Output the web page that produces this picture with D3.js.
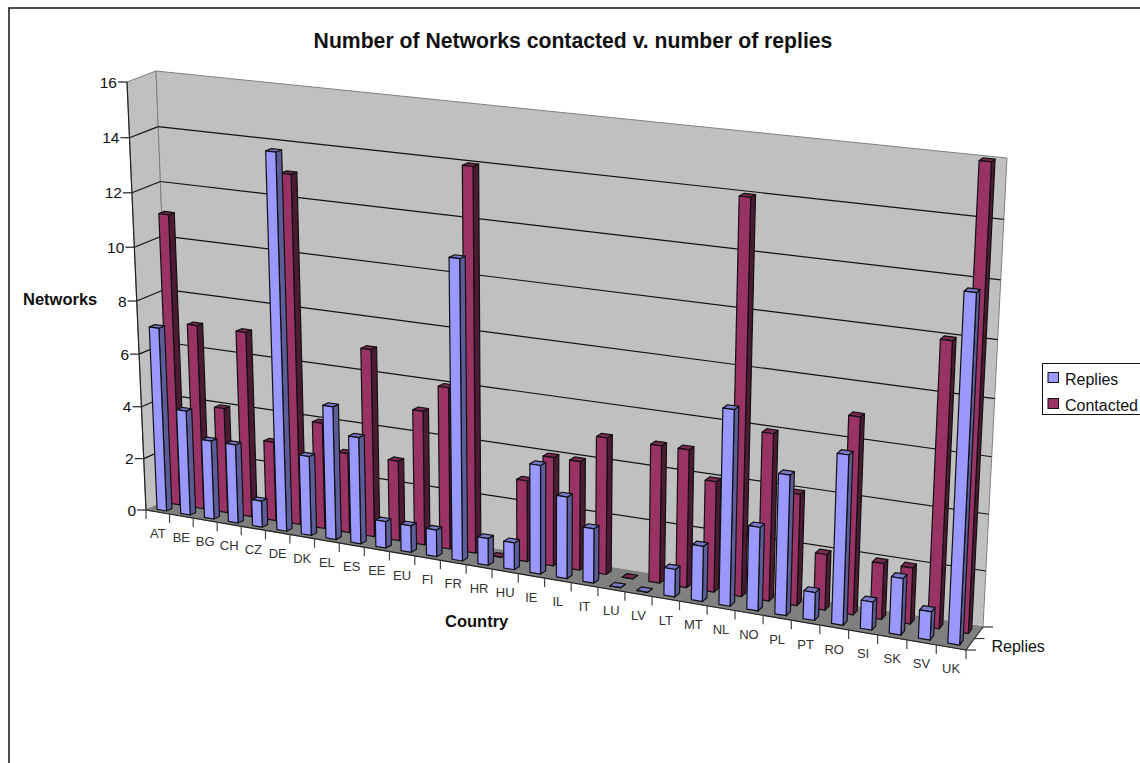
<!DOCTYPE html>
<html>
<head>
<meta charset="utf-8">
<script src="https://cdn.jsdelivr.net/npm/d3@7"></script>
<style>
  html, body { margin: 0; padding: 0; background: #fff; overflow: hidden; }
  text { font-family: "Liberation Sans", Arial, sans-serif; fill: #111; }
</style>
</head>
<body>
<svg id="chart" width="1140" height="763"></svg>
<script>
const countries = ['AT','BE','BG','CH','CZ','DE','DK','EL','ES','EE','EU','FI','FR','HR','HU','IE','IL','IT','LU','LV','LT','MT','NL','NO','PL','PT','RO','SI','SK','SV','UK'];
const replies   = [7,4,3,3,1,14,3,5,4,1,1,1,11,1,1,4,3,2,0,0,1,2,7,3,5,1,6,1,2,1,12];
const contacted = [11,7,4,7,3,13,4,3,7,3,5,6,14,0,3,4,4,5,0,5,5,4,14,6,4,2,7,2,2,10,16];
const valueTicks = [0,2,4,6,8,10,12,14,16];
const seriesNames = ['Replies','Contacted'];

const svg = d3.select('#chart');

// homography from the unit square to four screen corners
// (u,v): (0,0)=p0 bottom left, (1,0)=p1 bottom right, (1,1)=p2 top right, (0,1)=p3 top left
function homography(p0, p1, p2, p3) {
    const dx1 = p1[0] - p2[0], dx2 = p3[0] - p2[0], sx = p0[0] - p1[0] + p2[0] - p3[0];
    const dy1 = p1[1] - p2[1], dy2 = p3[1] - p2[1], sy = p0[1] - p1[1] + p2[1] - p3[1];
    const det = dx1 * dy2 - dx2 * dy1;
    const g = (sx * dy2 - dx2 * sy) / det;
    const h = (dx1 * sy - sx * dy1) / det;
    const a = p1[0] - p0[0] + g * p1[0], b = p3[0] - p0[0] + h * p3[0], c = p0[0];
    const d = p1[1] - p0[1] + g * p1[1], e = p3[1] - p0[1] + h * p3[1], f = p0[1];
    return (u, v) => {
        const w = g * u + h * v + 1;
        return [(a * u + b * v + c) / w, (d * u + e * v + f) / w];
    };
}

// box corners
const frontPlane = homography([146, 510], [966, 650], [989, 172], [127, 82]);
const backPlane  = homography([173, 498], [983, 627], [1007, 158], [156, 71]);

// x: 0..1 along countries, depth: 0 front .. 1 back, v: 0..1 up
function project(x, depth, v) {
    const f = frontPlane(x, v), b = backPlane(x, v);
    return [f[0] + (b[0] - f[0]) * depth, f[1] + (b[1] - f[1]) * depth];
}

const xScale = d3.scaleBand().domain(countries).range([0, 1]).paddingInner(0.6).paddingOuter(0.3);
const xStep = d3.scaleBand().domain(countries).range([0, 1]);
const depthScale = d3.scaleBand().domain(seriesNames).range([0, 1]).paddingInner(0.6).paddingOuter(0.3);
const yScale = d3.scaleLinear().domain([0, 16]).range([0, 1]);

const poly = (pts, fill, stroke, sw) => svg.append('polygon')
    .attr('points', pts.map(p => p.map(n => n.toFixed(2)).join(',')).join(' '))
    .attr('fill', fill)
    .attr('stroke', stroke || 'none')
    .attr('stroke-width', sw || 1)
    .attr('stroke-linejoin', 'round');
const line = (a, b, stroke, sw) => svg.append('line')
    .attr('x1', a[0]).attr('y1', a[1]).attr('x2', b[0]).attr('y2', b[1])
    .attr('stroke', stroke).attr('stroke-width', sw || 1);

// chart border
svg.append('rect').attr('x', 9).attr('y', 8).attr('width', 1140).attr('height', 780)
    .attr('fill', '#fff').attr('stroke', '#222').attr('stroke-width', 1.6);

// walls and floor
poly([project(0,0,0), project(0,1,0), project(0,1,1), project(0,0,1)], '#c0c0c0', '#808080');
poly([project(0,1,0), project(1,1,0), project(1,1,1), project(0,1,1)], '#c0c0c0', '#808080');
poly([project(0,0,0), project(1,0,0), project(1,1,0), project(0,1,0)], '#808080', '#808080');

// gridlines
valueTicks.forEach(t => {
    const v = yScale(t);
    if (t > 0 && t < 16) {
        line(project(0,0,v), project(0,1,v), '#111', 1.2);
        line(project(0,1,v), project(1,1,v), '#111', 1.2);
    }
});

// value axis
line(project(0,0,0), project(0,0,1), '#222', 1.2);
valueTicks.forEach(t => {
    const p = project(0,0,yScale(t));
    line([p[0] - 9, p[1]], p, '#222', 1.2);
    svg.append('text').attr('x', p[0] - 10).attr('y', p[1] + 5.5)
        .attr('text-anchor', 'end').attr('font-size', 15.5).text(t);
});

// bars, back series first
function drawBar(country, series, value, colors) {
    const x0 = xScale(country), x1 = x0 + xScale.bandwidth();
    const d0 = depthScale(series), d1 = d0 + depthScale.bandwidth();
    const v = yScale(value);
    const black = '#111';
    poly([project(x1,d0,0), project(x1,d1,0), project(x1,d1,v), project(x1,d0,v)], colors.side, black, 1.2);
    poly([project(x0,d0,v), project(x1,d0,v), project(x1,d1,v), project(x0,d1,v)], colors.top, black, 1.2);
    poly([project(x0,d0,0), project(x1,d0,0), project(x1,d0,v), project(x0,d0,v)], colors.front, black, 1.2);
}
const redColors  = { front: '#993366', side: '#4d1a33', top: '#7a2952' };
const blueColors = { front: '#9999ff', side: '#5c5c99', top: '#7a7acc' };
countries.forEach((c, i) => drawBar(c, 'Contacted', contacted[i], redColors));
countries.forEach((c, i) => drawBar(c, 'Replies', replies[i], blueColors));

// category axis
line(project(0,0,0), project(1,0,0), '#222', 1.2);
d3.range(countries.length + 1).forEach(i => {
    const p = project(i / countries.length, 0, 0);
    line(p, [p[0], p[1] + 9], '#444', 1.2);
});
countries.forEach(c => {
    const p = project(xStep(c) + xStep.bandwidth() / 2, 0, 0);
    svg.append('text').attr('x', p[0]).attr('y', p[1] + 26)
        .attr('text-anchor', 'middle').attr('font-size', 13).style('fill', '#333').text(c);
});

// depth axis
line(project(1,0,0), project(1,1,0), '#333', 1.2);
[0, 0.5, 1].forEach(d => {
    const p = project(1, d, 0);
    line(p, [p[0] + 10, p[1]], '#333', 1.2);
});
const depthLabel = project(1, 0.5, 0);
svg.append('text').attr('x', depthLabel[0] + 17).attr('y', depthLabel[1] + 13)
    .attr('font-size', 16).text('Replies');

// titles
svg.append('text').attr('x', 573).attr('y', 48).attr('text-anchor', 'middle')
    .attr('font-size', 21.2).attr('font-weight', 'bold').text('Number of Networks contacted v. number of replies');
svg.append('text').attr('x', 23).attr('y', 305).attr('font-size', 16.5).attr('font-weight', 'bold').text('Networks');
svg.append('text').attr('x', 445).attr('y', 627).attr('font-size', 16.5).attr('font-weight', 'bold').text('Country');

// legend
svg.append('rect').attr('x', 1042.5).attr('y', 363.5).attr('width', 110).attr('height', 51)
    .attr('fill', '#fff').attr('stroke', '#111');
seriesNames.forEach((s, i) => {
    const y = 372 + i * 26;
    svg.append('rect').attr('x', 1048).attr('y', y + 0.5).attr('width', 10.5).attr('height', 10)
        .attr('fill', i ? '#993366' : '#9999ff').attr('stroke', '#111');
    svg.append('text').attr('x', 1065).attr('y', y + 12.5).attr('font-size', 16).text(s);
});
</script>
</body>
</html>
